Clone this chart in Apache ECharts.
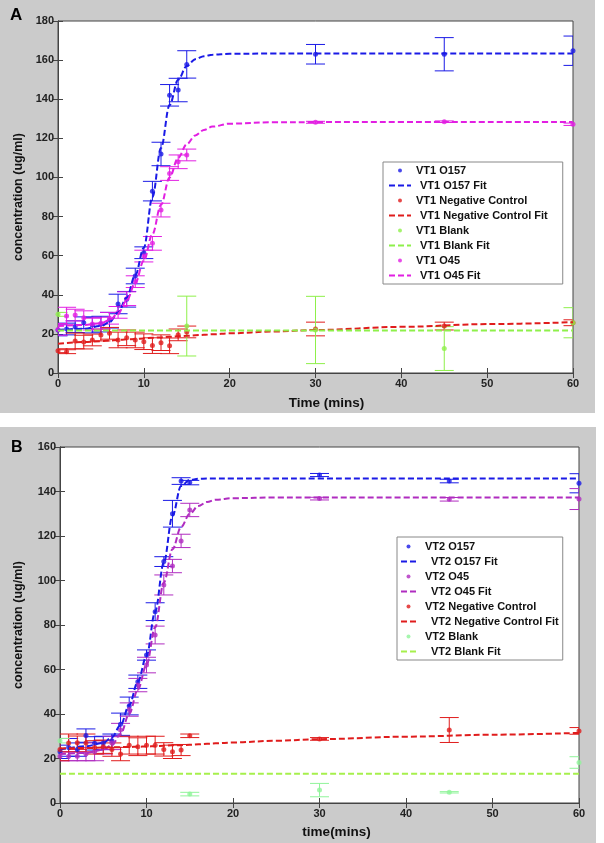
<!DOCTYPE html>
<html>
<head>
<meta charset="utf-8">
<title>concentration vs time</title>
<script src="https://cdn.jsdelivr.net/npm/echarts@6/dist/echarts.min.js"></script>
<style>
  html, body { margin: 0; padding: 0; background: #fff; }
  #chart { width: 604px; height: 843px; }
</style>
</head>
<body>
<div id="chart"></div>
<script>
// sample times (minutes)
var sampleTimes = [0, 1, 2, 3, 4, 5, 6, 7, 8, 9, 10, 11, 12, 13, 14, 15, 30, 45, 60];
var blankTimes = [0, 15, 30, 45, 60];
var fitTimes = [0, 3, 5, 6, 7, 8, 9, 10, 11, 12, 13, 14, 15, 16, 17, 18, 20, 25, 30, 40, 50, 60];
var xTicks = [0, 10, 20, 30, 40, 50, 60];

// panel A (VT1)
var vt1O157 = [22, 22.5, 23.7, 25.7, 24.5, 25, 27, 35.3, 37.7, 49.6, 61.5, 93, 112, 142, 144.7, 157.8, 163, 163, 164.8];
var vt1O157Err = [3, 3, 3, 3, 4, 4, 4, 5, 4, 4, 3, 5, 6, 5.5, 6, 7, 5, 8.5, 7.5];
var vt1O157Fit = [22, 22.6, 24, 26, 31, 38.5, 50, 64, 90, 115, 137, 150, 157, 160.5, 162, 162.8, 163.2, 163.4, 163.4, 163.4, 163.4, 163.4];
var vt1Neg = [11.4, 10.9, 16.4, 15.8, 16.9, 19.4, 20.3, 16.9, 18, 16.9, 16, 14, 15.5, 13.9, 19.5, 21, 22.5, 24, 25.7];
var vt1NegErr = [1, 1, 4, 3.5, 3, 3, 3, 4, 4, 4, 4, 4, 4, 4, 3, 3, 3.5, 2, 1.5];
var vt1NegFit = [15, 15.8, 16.3, 16.6, 16.9, 17.2, 17.4, 17.7, 18, 18.2, 18.5, 18.8, 19, 19.3, 19.5, 19.8, 20.3, 21.2, 22, 23.6, 25, 26];
var vt1Blank = [30, 24, 22, 12.5, 25.7];
var vt1BlankErr = [1, 15.3, 17.2, 11.2, 7.7];
var vt1BlankFit = [21.7, 21.7, 21.7, 21.7, 21.7, 21.7, 21.7, 21.7, 21.7, 21.7, 21.7, 21.7, 21.7, 21.7, 21.7, 21.7, 21.7, 21.7, 21.7, 21.7, 21.7, 21.7];
var vt1O45 = [22.3, 29.1, 29.6, 28.3, 25, 25.5, 28, 31, 38, 46.7, 59.8, 66.3, 83.3, 102, 108, 111.5, 128.2, 128.5, 127.2];
var vt1O45Err = [3, 4.5, 3, 3.5, 3, 3, 3, 3, 3.5, 3, 3, 3.5, 3.5, 3.5, 3.5, 3, 0.5, 0.4, 0.6];
var vt1O45Fit = [24, 24.5, 25.5, 27, 30.5, 37, 46, 57.5, 71, 86, 100, 110, 117, 121.5, 124.3, 126, 127.5, 128.2, 128.3, 128.3, 128.3, 128.3];
var yTicksA = [0, 20, 40, 60, 80, 100, 120, 140, 160, 180];

// panel B (VT2)
var vt2O157 = [23, 25, 24, 30.3, 26.8, 27, 28, 35.4, 43.6, 54.5, 66.5, 86, 108.5, 130, 144.7, 144, 147.4, 144.7, 143.7];
var vt2O157Err = [3, 4, 3, 3, 3, 3, 3, 5, 4, 3, 2.3, 4, 2.2, 6, 1.5, 1, 0.7, 0.8, 4.3];
var vt2O157Fit = [24, 25.5, 27, 29.5, 35, 44, 54.5, 66, 86, 108, 129, 142.5, 145.2, 145.7, 145.8, 145.8, 145.8, 145.8, 145.8, 145.8, 145.8, 145.8];
var vt2O45 = [21, 21, 21, 22, 23, 25, 27, 32.8, 42, 53, 62, 75.5, 98, 106.5, 117.8, 131.7, 136.8, 136.5, 136.6];
var vt2O45Err = [2, 2, 2, 3, 4, 3, 3, 3, 3, 3, 3.5, 4, 4.5, 3, 3, 3, 0.6, 0.8, 4.7];
var vt2O45Fit = [22, 22.5, 24, 26, 31, 40, 51, 62, 79, 99, 114, 124, 130, 133.5, 135.3, 136.3, 137, 137.3, 137.3, 137.3, 137.3, 137.3];
var vt2Neg = [24, 27, 27.1, 27, 25, 25.3, 24, 22, 26, 25.3, 26, 26, 24.1, 23, 23.8, 30.2, 28.8, 32.8, 32.4];
var vt2NegErr = [5, 4, 3, 4, 3, 3, 3, 3, 4, 4, 4, 4, 3, 3, 2.5, 0.8, 0.6, 5.6, 1.5];
var vt2NegFit = [24.5, 24.7, 24.9, 25, 25.1, 25.2, 25.3, 25.4, 25.5, 25.7, 25.9, 26, 26.2, 26.4, 26.6, 26.8, 27.2, 28, 28.7, 29.8, 30.7, 31.5];
var vt2Blank = [28, 4, 5.8, 4.8, 18.2];
var vt2BlankErr = [1, 0.8, 3, 0.3, 2.6];
var vt2BlankFit = [13.2, 13.2, 13.2, 13.2, 13.2, 13.2, 13.2, 13.2, 13.2, 13.2, 13.2, 13.2, 13.2, 13.2, 13.2, 13.2, 13.2, 13.2, 13.2, 13.2, 13.2, 13.2];
var yTicksB = [0, 20, 40, 60, 80, 100, 120, 140, 160];

(function () {
  var FONT = 'Liberation Sans, Arial, sans-serif';
  var BLUE = '#1a1ae6';
  var RED = '#e01c1c';
  var MAGENTA_A = '#e21fe2';
  var MAGENTA_B = '#b02cc0';
  var GREEN_A = '#8ef04a';
  var GREEN_B_DOT = '#90f49a';
  var GREEN_B_FIT = '#a6f04c';

  function pairs(xs, ys) {
    return xs.map(function (x, i) { return [x, ys[i]]; });
  }

  function bars(xs, ys, errs) {
    return xs.map(function (x, i) { return [x, ys[i] - errs[i], ys[i] + errs[i]]; });
  }

  function errorBarRenderer(color) {
    return function (params, api) {
      var x = api.value(0);
      var lo = api.coord([x, api.value(1)]);
      var hi = api.coord([x, api.value(2)]);
      var half = 9.5;
      var style = { stroke: color, lineWidth: 1 };
      return {
        type: 'group',
        children: [
          { type: 'line', shape: { x1: hi[0], y1: hi[1], x2: lo[0], y2: lo[1] }, style: style },
          { type: 'line', shape: { x1: hi[0] - half, y1: hi[1], x2: hi[0] + half, y2: hi[1] }, style: style },
          { type: 'line', shape: { x1: lo[0] - half, y1: lo[1], x2: lo[0] + half, y2: lo[1] }, style: style },
        ],
      };
    };
  }

  // one measured group = error bars + dots + dashed fit
  function addGroup(series, axis, g) {
    series.push({
      name: g.name + ' err',
      type: 'custom',
      xAxisIndex: axis,
      yAxisIndex: axis,
      clip: true,
      renderItem: errorBarRenderer(g.dot),
      data: bars(g.times, g.values, g.errs),
      z: 2,
    });
    series.push({
      name: g.name,
      type: 'scatter',
      xAxisIndex: axis,
      yAxisIndex: axis,
      symbol: 'circle',
      symbolSize: 5,
      clip: true,
      itemStyle: { color: g.dot },
      data: pairs(g.times, g.values),
      z: 3,
    });
    series.push({
      name: g.name + ' Fit',
      type: 'line',
      xAxisIndex: axis,
      yAxisIndex: axis,
      symbol: 'none',
      showSymbol: false,
      smooth: 0.35,
      smoothMonotone: 'x',
      lineStyle: { color: g.fit, width: 2, type: [6, 3] },
      itemStyle: { color: g.fit },
      data: pairs(fitTimes, g.fitValues),
      z: 4,
    });
  }

  function xAxes(gridIndex, name, pad, gap) {
    var base = {
      gridIndex: gridIndex,
      type: 'value',
      min: 0,
      max: 60,
      interval: xTicks[1] - xTicks[0],
      splitLine: { show: false },
      axisLine: { show: true, lineStyle: { color: '#444' } },
      axisTick: { show: true, inside: true, length: 5, lineStyle: { color: '#444' } },
    };
    var bottom = Object.assign({}, base, {
      position: 'bottom',
      name: name,
      nameLocation: 'middle',
      nameGap: gap,
      nameTextStyle: { fontFamily: FONT, fontWeight: 'bold', fontSize: 13.5, color: '#111', padding: [0, 0, 0, pad] },
      axisLabel: { fontFamily: FONT, fontWeight: 'bold', fontSize: 11, color: '#222', margin: 5 },
    });
    var top = Object.assign({}, base, { position: 'top', axisLabel: { show: false } });
    return [bottom, top];
  }

  function yAxes(gridIndex, ticks, gap) {
    var base = {
      gridIndex: gridIndex,
      type: 'value',
      min: ticks[0],
      max: ticks[ticks.length - 1],
      interval: ticks[1] - ticks[0],
      splitLine: { show: false },
      axisLine: { show: true, lineStyle: { color: '#444' } },
      axisTick: { show: true, inside: true, length: 5, lineStyle: { color: '#444' } },
    };
    var left = Object.assign({}, base, {
      position: 'left',
      name: 'concentration (ug/ml)',
      nameLocation: 'middle',
      nameRotate: 90,
      nameGap: gap,
      nameTextStyle: { fontFamily: FONT, fontWeight: 'bold', fontSize: 12.5, color: '#111' },
      axisLabel: { fontFamily: FONT, fontWeight: 'bold', fontSize: 11, color: '#222', margin: 4 },
    });
    var right = Object.assign({}, base, { position: 'right', axisLabel: { show: false } });
    return [left, right];
  }

  function legend(names, box) {
    return {
      orient: 'vertical',
      left: box.left,
      top: box.top,
      padding: box.padding,
      itemGap: 0,
      itemWidth: box.iconWidth,
      itemHeight: 4,
      backgroundColor: '#fff',
      borderColor: '#888',
      borderWidth: 1,
      borderRadius: 0,
      selectedMode: false,
      // fit entries: dashed line only, hide the marker the line icon adds
      data: names.map(function (name) {
        return /Fit$/.test(name) ? { name: name, itemStyle: { opacity: 0 } } : { name: name };
      }),
      formatter: function (name) {
        return /Fit$/.test(name) ? '{f|' + name + '}' : '{d|' + name + '}';
      },
      textStyle: {
        fontFamily: FONT,
        fontWeight: 'bold',
        fontSize: 11,
        color: '#111',
        lineHeight: 15,
        rich: {
          d: { fontFamily: FONT, fontWeight: 'bold', fontSize: 11, color: '#111', lineHeight: 15, padding: [0, 0, 0, box.dotPad] },
          f: { fontFamily: FONT, fontWeight: 'bold', fontSize: 11, color: '#111', lineHeight: 15, padding: [0, 0, 0, box.fitPad] },
        },
      },
    };
  }

  var series = [];
  addGroup(series, 0, { name: 'VT1 O157', dot: BLUE, fit: BLUE, times: sampleTimes, values: vt1O157, errs: vt1O157Err, fitValues: vt1O157Fit });
  addGroup(series, 0, { name: 'VT1 Negative Control', dot: RED, fit: RED, times: sampleTimes, values: vt1Neg, errs: vt1NegErr, fitValues: vt1NegFit });
  addGroup(series, 0, { name: 'VT1 Blank', dot: GREEN_A, fit: GREEN_A, times: blankTimes, values: vt1Blank, errs: vt1BlankErr, fitValues: vt1BlankFit });
  addGroup(series, 0, { name: 'VT1 O45', dot: MAGENTA_A, fit: MAGENTA_A, times: sampleTimes, values: vt1O45, errs: vt1O45Err, fitValues: vt1O45Fit });

  addGroup(series, 2, { name: 'VT2 O157', dot: BLUE, fit: BLUE, times: sampleTimes, values: vt2O157, errs: vt2O157Err, fitValues: vt2O157Fit });
  addGroup(series, 2, { name: 'VT2 O45', dot: MAGENTA_B, fit: MAGENTA_B, times: sampleTimes, values: vt2O45, errs: vt2O45Err, fitValues: vt2O45Fit });
  addGroup(series, 2, { name: 'VT2 Negative Control', dot: RED, fit: RED, times: sampleTimes, values: vt2Neg, errs: vt2NegErr, fitValues: vt2NegFit });
  addGroup(series, 2, { name: 'VT2 Blank', dot: GREEN_B_DOT, fit: GREEN_B_FIT, times: blankTimes, values: vt2Blank, errs: vt2BlankErr, fitValues: vt2BlankFit });

  var chart = echarts.init(document.getElementById('chart'), null, { renderer: 'canvas' });
  chart.setOption({
    animation: false,
    backgroundColor: '#fff',
    graphic: [
      { type: 'rect', z: -10, silent: true, shape: { x: 0, y: 0, width: 595, height: 413 }, style: { fill: '#cbcbcb' } },
      { type: 'rect', z: -10, silent: true, shape: { x: 0, y: 427, width: 596, height: 416 }, style: { fill: '#cbcbcb' } },
      { type: 'text', left: 10, top: 7, style: { text: 'A', font: 'bold 17px ' + FONT, fill: '#000' } },
      { type: 'text', left: 11, top: 440, style: { text: 'B', font: 'bold 16px ' + FONT, fill: '#000' } },
    ],
    grid: [
      { left: 58, right: 31, top: 21, height: 352, show: true, backgroundColor: '#fff', borderColor: '#444', borderWidth: 1 },
      { left: 60, right: 25, top: 447, height: 356, show: true, backgroundColor: '#fff', borderColor: '#444', borderWidth: 1 },
    ],
    xAxis: xAxes(0, 'Time (mins)', 22, 23).concat(xAxes(1, 'time(mins)', 34, 22)),
    yAxis: yAxes(0, yTicksA, 33).concat(yAxes(1, yTicksB, 35)),
    legend: [
      legend(
        ['VT1 O157', 'VT1 O157 Fit', 'VT1 Negative Control', 'VT1 Negative Control Fit', 'VT1 Blank', 'VT1 Blank Fit', 'VT1 O45', 'VT1 O45 Fit'],
        { left: 383, top: 162, padding: [1, 15, 1, 5], iconWidth: 22, dotPad: 0, fitPad: 4 }
      ),
      legend(
        ['VT2 O157', 'VT2 O157 Fit', 'VT2 O45', 'VT2 O45 Fit', 'VT2 Negative Control', 'VT2 Negative Control Fit', 'VT2 Blank', 'VT2 Blank Fit'],
        { left: 397, top: 537, padding: [2, 4, 1, 3], iconWidth: 15, dotPad: 4, fitPad: 10 }
      ),
    ],
    series: series,
  });
})();
</script>
</body>
</html>
